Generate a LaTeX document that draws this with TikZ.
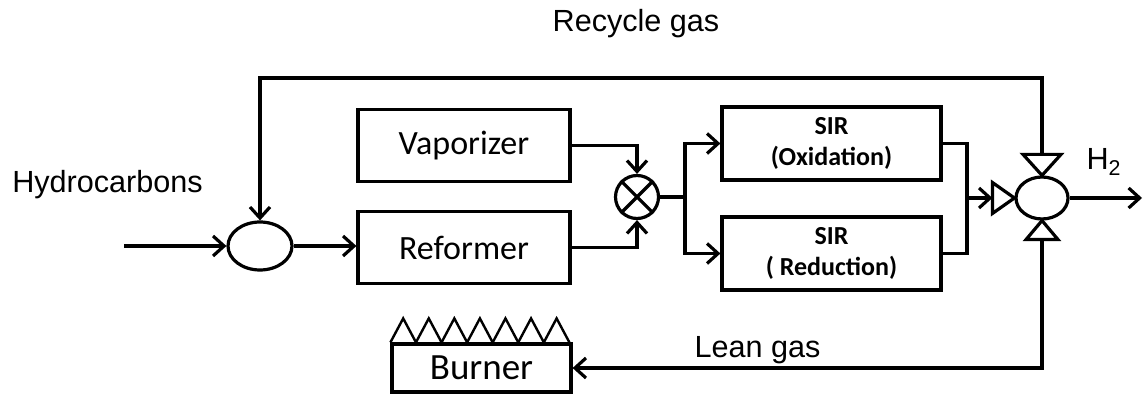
\documentclass[tikz,border=0pt]{standalone}
\usepackage{fontspec}
\setmainfont{Liberation Sans}
\newfontfamily\calfont{Carlito}
\usetikzlibrary{arrows.meta, positioning, calc, shapes.geometric}

\begin{document}
\begin{tikzpicture}[x=0.5pt, y=-0.5pt, line width=1.6pt,
    block/.style={draw, rectangle, inner sep=0pt, font=\calfont\fontsize{17}{20}\selectfont},
    sirbox/.style={block, minimum width=109.5pt, minimum height=36.5pt, align=center,
      font=\calfont\bfseries\fontsize{13}{15.5}\selectfont},
    joint/.style={draw, ellipse, inner sep=0pt},
    flow/.style={-{Straight Barb[length=5.5pt, width=10pt]}},
    lbl/.style={font=\fontsize{15.3}{18}\selectfont, anchor=base}]

    \useasboundingbox (0,0) rectangle (1144,394);

    % Blocks
    \node[block, minimum width=106pt, minimum height=36pt] (vap) at (464,145.5) {Vaporizer};
    \node[block, minimum width=106pt, minimum height=36pt] (ref) at (464,247.5) {Reformer};
    \node[sirbox] (sox) at (831.5,143.5) {SIR\\(Oxidation)};
    \node[sirbox] (sred) at (831.5,253.5) {SIR\\( Reduction)};
    \node[block, minimum width=89.5pt, minimum height=24pt,
      font=\calfont\fontsize{18.5}{21}\selectfont] (burner) at (481.5,368) {Burner};

    % Burner flames
    \foreach \i in {0,...,6}
      \draw[line width=1.2pt] ($(burner.north west)+(\i*25.57,0)$) -- ++(12.79,-24) -- ++(12.79,24);

    % Junctions
    \node[joint, minimum width=32pt, minimum height=24pt] (inL) at (260,246) {};
    \node[joint, minimum width=26pt, minimum height=21pt] (outR) at (1042,198) {};
    \node[draw, circle, minimum size=21.5pt, inner sep=0pt] (mix) at (637,197) {};
    \draw (mix.45) -- (mix.225) (mix.135) -- (mix.315);

    % Valves round the outlet
    \draw (outR.north) -- ++(-19,-21) -- ++(38,0) -- cycle;
    \draw (outR.south) -- ++(-16,19) -- ++(32,0) -- cycle;
    \draw (outR.west) -- ++(-22,-15.5) -- ++(0,31) -- cycle;
    \coordinate (vT) at ($(outR.north)+(0,-21)$);
    \coordinate (vB) at ($(outR.south)+(0,19)$);
    \coordinate (vL) at ($(outR.west)+(-22,0)$);

    % Free ends and bends
    \coordinate (feed) at (124,246);
    \coordinate (prod) at (1142,198);
    \coordinate (split) at (685,197);
    \coordinate (merge) at (967,198);
    \coordinate (rtop) at (0,78);

    % Flows
    \draw[flow] (feed) -- (inL.west);
    \draw[flow] (inL.east) -- (ref.west |- inL.east);
    \draw[flow] (vap.east) -| (mix.north);
    \draw[flow] (ref.east) -| (mix.south);
    \draw (mix.east) -- (split);
    \draw[flow] (split) |- (sox.west);
    \draw[flow] (split) |- (sred.west);
    \draw (sox.east) -| (merge);
    \draw (sred.east) -| (merge);
    \draw[flow] (merge) -- (vL);
    \draw[flow] (outR.east) -- (prod);
    \draw[flow] (vT) -- (vT |- rtop) -| (inL.north);
    \draw[flow] (vB) |- (burner.east);

    % Labels
    \node[lbl] (lrec) at (636,32) {Recycle gas};
    \node[lbl] (lhyd) at (107.5,193) {Hydrocarbons};
    \node[lbl] (llean) at (757.5,358) {Lean gas};
    \node[lbl] (lh2) at (1104,170) {H\textsubscript{2}};
\end{tikzpicture}
\end{document}
